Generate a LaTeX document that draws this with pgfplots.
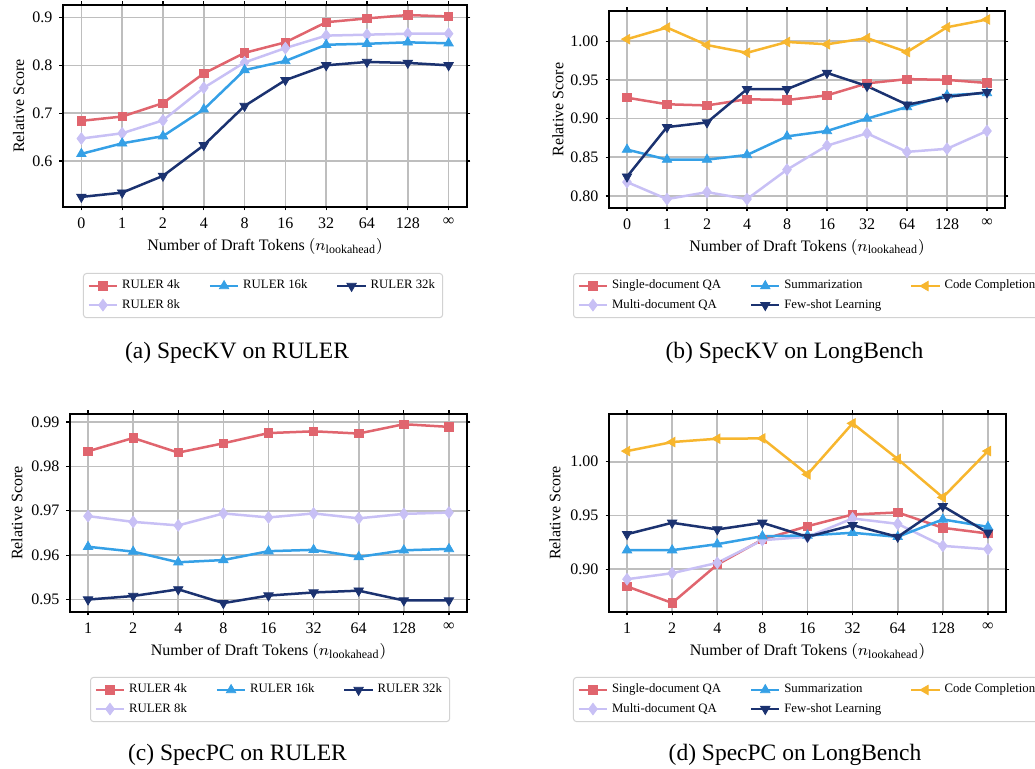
\documentclass[border=0pt]{standalone}
\usepackage{amsmath}
\usepackage{fontspec}
\setmainfont{Liberation Serif}
\usepackage{pgfplots}
\pgfplotsset{compat=1.18}
\definecolor{cred}{RGB}{224,101,110}
\definecolor{clav}{RGB}{200,192,245}
\definecolor{cblue}{RGB}{53,160,230}
\definecolor{cnavy}{RGB}{27,50,112}
\definecolor{corange}{RGB}{247,182,46}
\definecolor{gridgray}{RGB}{190,190,190}
\definecolor{leggray}{RGB}{210,210,210}
\pgfplotsset{
  sA/.style={cred, line width=1.25pt, mark=square*, mark size=2.1pt, mark options={solid, line width=0.4pt}},
  sB/.style={clav, line width=1.25pt, mark=diamond*, mark size=2.9pt, mark options={solid, line width=0.4pt}},
  sC/.style={cblue, line width=1.25pt, mark=triangle*, mark size=2.7pt, mark options={solid, line width=0.4pt}},
  sD/.style={cnavy, line width=1.25pt, mark=triangle*, mark size=2.7pt, mark options={solid, line width=0.4pt, rotate=180}},
  sE/.style={corange, line width=1.25pt, mark=triangle*, mark size=2.7pt, mark options={solid, line width=0.4pt, rotate=90}},
  specstyle/.style={
    scale only axis,
    anchor=north west,
    axis line style={black, line width=0.7pt},
    grid=major,
    major grid style={color=gridgray, line width=0.8pt},
    tick align=outside,
    major tick length=1.75pt,
    tick style={black, line width=0.6pt},
    /pgf/number format/assume math mode=true,
    ticklabel style={font=\fontsize{8}{9.6}\selectfont},
    label style={font=\fontsize{8}{9.6}\selectfont},
    legend cell align=left,
    legend columns=3,
    legend image code/.code={\draw[mark repeat=2,mark phase=2] plot coordinates {(0cm,0cm) (0.25cm,0cm) (0.5cm,0cm)};},
    legend style={draw=leggray, line width=0.5pt, rounded corners=1.5pt, fill=white,
      font=\fontsize{6.4}{7.7}\selectfont, anchor=north west,
      inner xsep=2pt, inner ysep=1.5pt,
      nodes={inner sep=1.8pt},
      /tikz/every even column/.append style={column sep=12.5pt}},
    xlabel={Number of Draft Tokens $(n_{\text{lookahead}})$},
    ylabel={Relative Score},
  }
}
\begin{document}
\begin{tikzpicture}
\useasboundingbox (0pt,0pt) rectangle (517.5pt,-384.5pt);
% (a) SpecKV on RULER
\begin{axis}[specstyle,
  at={(31.5pt,-2.5pt)}, width=202pt, height=101pt,
  xmin=-0.45, xmax=9.45, ymin=0.504, ymax=0.926,
  xtick={0,...,9}, xticklabels={0,1,2,4,8,16,32,64,128,∞},
  ytick={0.6,0.7,0.8,0.9},
  yticklabel style={/pgf/number format/.cd, fixed, precision=1},
  xlabel style={at={(axis description cs:0.5,-0.198)}, anchor=center},
  ylabel style={at={(axis description cs:-0.110,0.5)}, anchor=center},
  legend style={at={(axis description cs:0.0495,-0.3267)}},
]
\addlegendimage{sA}\addlegendentry{RULER 4k}
\addlegendimage{sC}\addlegendentry{RULER 16k}
\addlegendimage{sD}\addlegendentry{RULER 32k}
\addlegendimage{sB}\addlegendentry{RULER 8k}
\addplot[sA, forget plot] coordinates {(0,0.684)(1,0.693)(2,0.721)(3,0.783)(4,0.826)(5,0.848)(6,0.890)(7,0.898)(8,0.905)(9,0.902)};
\addplot[sB, forget plot] coordinates {(0,0.647)(1,0.658)(2,0.685)(3,0.753)(4,0.806)(5,0.836)(6,0.862)(7,0.864)(8,0.866)(9,0.866)};
\addplot[sC, forget plot] coordinates {(0,0.615)(1,0.637)(2,0.652)(3,0.708)(4,0.790)(5,0.809)(6,0.843)(7,0.845)(8,0.848)(9,0.846)};
\addplot[sD, forget plot] coordinates {(0,0.525)(1,0.534)(2,0.569)(3,0.633)(4,0.715)(5,0.769)(6,0.800)(7,0.807)(8,0.805)(9,0.800)};
\end{axis}
% (b) SpecKV on LongBench
\begin{axis}[specstyle,
  at={(304.5pt,-5.5pt)}, width=198pt, height=98.5pt,
  xmin=-0.45, xmax=9.45, ymin=0.7845, ymax=1.039,
  xtick={0,...,9}, xticklabels={0,1,2,4,8,16,32,64,128,∞},
  ytick={0.80,0.85,0.90,0.95,1.00},
  yticklabel style={/pgf/number format/.cd, fixed, fixed zerofill, precision=2},
  xlabel style={at={(axis description cs:0.5,-0.198)}, anchor=center},
  ylabel style={at={(axis description cs:-0.129,0.5)}, anchor=center},
  legend style={at={(axis description cs:-0.0909,-0.33)}},
]
\addlegendimage{sA}\addlegendentry{Single-document QA}
\addlegendimage{sC}\addlegendentry{Summarization}
\addlegendimage{sE}\addlegendentry{Code Completion}
\addlegendimage{sB}\addlegendentry{Multi-document QA}
\addlegendimage{sD}\addlegendentry{Few-shot Learning}
\addplot[sA, forget plot] coordinates {(0,0.927)(1,0.9185)(2,0.917)(3,0.925)(4,0.924)(5,0.930)(6,0.9455)(7,0.951)(8,0.950)(9,0.946)};
\addplot[sB, forget plot] coordinates {(0,0.818)(1,0.796)(2,0.805)(3,0.796)(4,0.834)(5,0.865)(6,0.881)(7,0.857)(8,0.861)(9,0.884)};
\addplot[sC, forget plot] coordinates {(0,0.860)(1,0.847)(2,0.847)(3,0.853)(4,0.877)(5,0.884)(6,0.900)(7,0.915)(8,0.930)(9,0.933)};
\addplot[sD, forget plot] coordinates {(0,0.825)(1,0.889)(2,0.895)(3,0.938)(4,0.938)(5,0.959)(6,0.942)(7,0.918)(8,0.928)(9,0.934)};
\addplot[sE, forget plot] coordinates {(0,1.0026)(1,1.0176)(2,0.995)(3,0.985)(4,0.999)(5,0.996)(6,1.004)(7,0.986)(8,1.018)(9,1.028)};
\end{axis}
% (c) SpecPC on RULER
\begin{axis}[specstyle,
  at={(35pt,-207pt)}, width=198.5pt, height=99pt,
  xmin=-0.4, xmax=8.4, ymin=0.9472, ymax=0.9918,
  xtick={0,...,8}, xticklabels={1,2,4,8,16,32,64,128,∞},
  ytick={0.95,0.96,0.97,0.98,0.99},
  yticklabel style={/pgf/number format/.cd, fixed, fixed zerofill, precision=2},
  xlabel style={at={(axis description cs:0.5,-0.202)}, anchor=center},
  ylabel style={at={(axis description cs:-0.134,0.5)}, anchor=center},
  legend style={at={(axis description cs:0.0504,-0.328)}},
]
\addlegendimage{sA}\addlegendentry{RULER 4k}
\addlegendimage{sC}\addlegendentry{RULER 16k}
\addlegendimage{sD}\addlegendentry{RULER 32k}
\addlegendimage{sB}\addlegendentry{RULER 8k}
\addplot[sA, forget plot] coordinates {(0,0.9834)(1,0.9864)(2,0.9831)(3,0.9852)(4,0.9875)(5,0.9879)(6,0.9874)(7,0.9895)(8,0.9889)};
\addplot[sB, forget plot] coordinates {(0,0.9688)(1,0.9675)(2,0.9667)(3,0.9694)(4,0.9685)(5,0.9694)(6,0.9683)(7,0.9693)(8,0.9696)};
\addplot[sC, forget plot] coordinates {(0,0.9619)(1,0.9608)(2,0.9584)(3,0.9589)(4,0.9609)(5,0.9612)(6,0.9596)(7,0.9611)(8,0.9614)};
\addplot[sD, forget plot] coordinates {(0,0.9500)(1,0.9508)(2,0.9523)(3,0.9492)(4,0.9509)(5,0.9516)(6,0.9520)(7,0.9498)(8,0.9498)};
\end{axis}
% (d) SpecPC on LongBench
\begin{axis}[specstyle,
  at={(304.5pt,-207pt)}, width=198.5pt, height=99pt,
  xmin=-0.4, xmax=8.4, ymin=0.8602, ymax=1.0444,
  xtick={0,...,8}, xticklabels={1,2,4,8,16,32,64,128,∞},
  ytick={0.90,0.95,1.00},
  yticklabel style={/pgf/number format/.cd, fixed, fixed zerofill, precision=2},
  xlabel style={at={(axis description cs:0.5,-0.202)}, anchor=center},
  ylabel style={at={(axis description cs:-0.136,0.5)}, anchor=center},
  legend style={at={(axis description cs:-0.0907,-0.328)}},
]
\addlegendimage{sA}\addlegendentry{Single-document QA}
\addlegendimage{sC}\addlegendentry{Summarization}
\addlegendimage{sE}\addlegendentry{Code Completion}
\addlegendimage{sB}\addlegendentry{Multi-document QA}
\addlegendimage{sD}\addlegendentry{Few-shot Learning}
\addplot[sA, forget plot] coordinates {(0,0.884)(1,0.8686)(2,0.9043)(3,0.9276)(4,0.940)(5,0.9509)(6,0.9528)(7,0.9385)(8,0.9332)};
\addplot[sB, forget plot] coordinates {(0,0.8907)(1,0.8963)(2,0.9059)(3,0.9270)(4,0.9301)(5,0.9472)(6,0.9422)(7,0.9217)(8,0.9186)};
\addplot[sC, forget plot] coordinates {(0,0.9177)(1,0.9177)(2,0.9233)(3,0.9307)(4,0.9314)(5,0.9339)(6,0.9301)(7,0.9463)(8,0.9394)};
\addplot[sD, forget plot] coordinates {(0,0.9326)(1,0.9432)(2,0.9370)(3,0.9432)(4,0.9301)(5,0.9410)(6,0.9301)(7,0.9587)(8,0.9339)};
\addplot[sE, forget plot] coordinates {(0,1.0099)(1,1.0183)(2,1.0214)(3,1.0217)(4,0.9882)(5,1.0357)(6,1.0025)(7,0.9668)(8,1.0099)};
\end{axis}
\node[font=\fontsize{11.75}{14}\selectfont] at (118.5pt,-176.5pt) {(a) SpecKV on RULER};
\node[font=\fontsize{11.75}{14}\selectfont] at (397.25pt,-176.5pt) {(b) SpecKV on LongBench};
\node[font=\fontsize{11.75}{14}\selectfont] at (118.75pt,-377.5pt) {(c) SpecPC on RULER};
\node[font=\fontsize{11.75}{14}\selectfont] at (397.5pt,-377.5pt) {(d) SpecPC on LongBench};
\end{tikzpicture}
\end{document}
